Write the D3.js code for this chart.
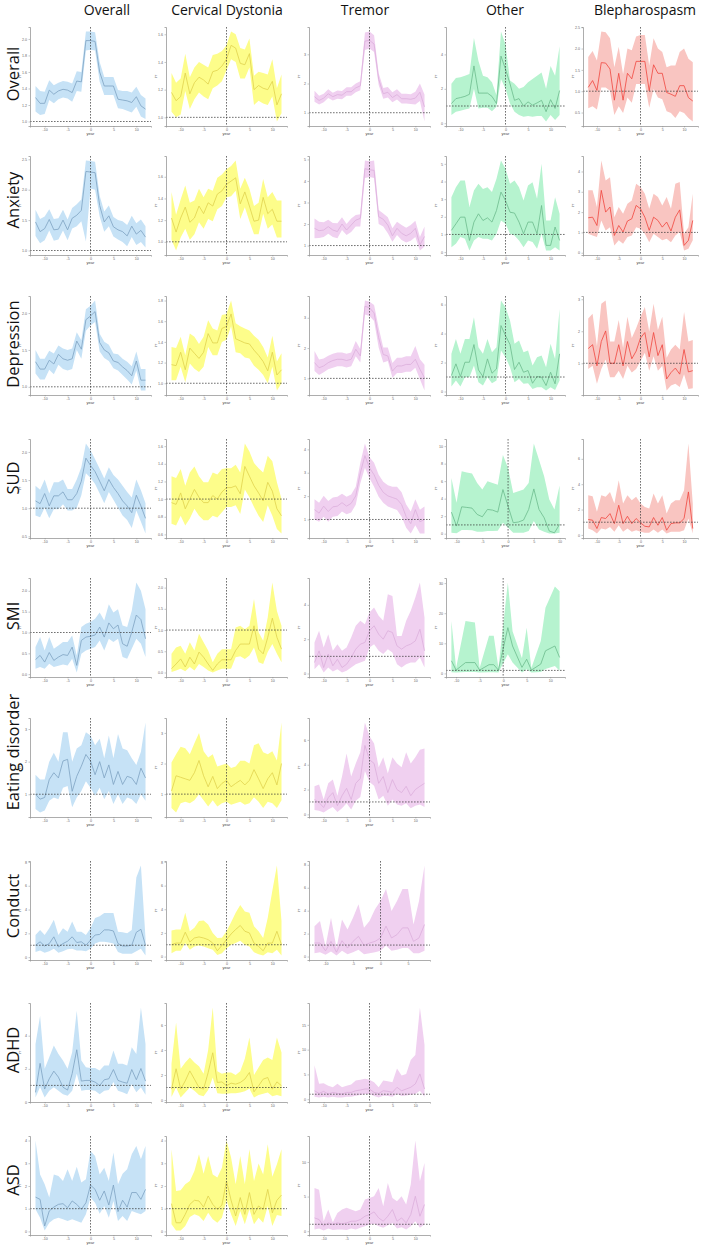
<!DOCTYPE html>
<html>
<head>
<meta charset="utf-8">
<script src="https://cdn.jsdelivr.net/npm/d3@7"></script>
<style>
  body { margin: 0; background: #fff; }
  .tick text { font-family: "Liberation Sans", Arial, sans-serif; }
</style>
</head>
<body>
<svg id="chart" width="709" height="1246"></svg>
<script>
// ---- categories ----
const groups = ["Overall", "Cervical Dystonia", "Tremor", "Other", "Blepharospasm"];
const outcomes = ["Overall", "Anxiety", "Depression", "SUD", "SMI", "Eating disorder", "Conduct", "ADHD", "ASD"];

const years = [-12,-11,-10,-9,-8,-7,-6,-5,-4,-3,-2,-1,0,1,2,3,4,5,6,7,8,9,10,11,12];
const yearsSudOther = [-11,-10,-9,-8,-7,-6,-5,-4,-3,-2,-1,0,1,2,3,4,5,6,7,8,9,10];
const yearsSmiOther = [-11,-10,-8,-6,-5,-3,-2,-1,1,2,4,5,6,8,9,11,12];
const yearsConTremor = [-12,-11,-10,-9,-8,-7,-6,-5,-4,-3,-2,-1,0,1,2,3,4,5,6,7,8];

// ---- Overall row ----
const ovr_all_est = [1.29,1.22,1.22,1.38,1.33,1.37,1.39,1.38,1.35,1.49,1.48,1.98,1.98,1.97,1.60,1.43,1.43,1.43,1.27,1.26,1.25,1.23,1.30,1.19,1.15];
const ovr_all_lo  = [1.12,1.08,1.09,1.26,1.22,1.27,1.29,1.28,1.24,1.37,1.36,1.86,1.87,1.86,1.48,1.32,1.32,1.32,1.16,1.15,1.13,1.11,1.18,1.06,1.03];
const ovr_all_hi  = [1.43,1.37,1.36,1.50,1.44,1.47,1.49,1.48,1.46,1.61,1.60,2.09,2.09,2.08,1.72,1.54,1.54,1.54,1.38,1.37,1.37,1.35,1.42,1.32,1.28];

const ovr_cd_est = [1.18,1.12,1.15,1.32,1.17,1.25,1.29,1.27,1.24,1.33,1.34,1.37,1.42,1.52,1.50,1.39,1.38,1.46,1.20,1.23,1.21,1.20,1.26,1.09,1.17];
const ovr_cd_lo  = [1.04,1.00,1.02,1.19,1.06,1.13,1.18,1.15,1.13,1.21,1.23,1.26,1.34,1.42,1.40,1.28,1.28,1.36,1.09,1.12,1.10,1.09,1.15,0.97,1.03];
const ovr_cd_hi  = [1.32,1.25,1.28,1.46,1.29,1.36,1.40,1.38,1.36,1.45,1.46,1.48,1.52,1.62,1.60,1.50,1.49,1.57,1.30,1.33,1.32,1.31,1.42,1.21,1.31];

const ovr_tre_est = [1.55,1.42,1.50,1.65,1.55,1.62,1.60,1.72,1.72,1.85,1.92,3.45,3.48,3.35,2.15,1.65,1.70,1.52,1.62,1.48,1.48,1.46,1.50,1.70,1.20];
const ovr_tre_lo  = [1.38,1.28,1.36,1.50,1.42,1.48,1.46,1.58,1.58,1.70,1.77,3.15,3.20,3.08,1.95,1.48,1.52,1.36,1.45,1.32,1.32,1.30,1.28,1.40,0.70];
const ovr_tre_hi  = [1.75,1.58,1.65,1.80,1.68,1.76,1.74,1.87,1.87,2.00,2.08,3.75,3.78,3.65,2.35,1.85,1.88,1.70,1.80,1.65,1.65,1.63,1.72,2.00,1.62];

const ovr_oth_est = [1.14,1.43,1.49,1.56,1.68,3.33,1.75,1.75,1.75,1.56,1.14,3.90,3.14,2.29,1.33,1.43,1.00,1.24,1.05,1.18,1.33,0.67,1.37,0.86,1.90];
const ovr_oth_lo  = [0.48,0.67,0.72,0.80,0.86,2.00,0.86,0.90,0.90,0.70,0.95,2.57,2.00,1.14,0.67,0.48,0.38,0.42,0.38,0.42,0.42,0.10,0.48,0.19,0.48];
const ovr_oth_hi  = [2.29,2.63,2.67,2.76,2.86,4.95,3.62,2.76,2.67,2.38,1.62,5.33,4.57,2.48,2.29,2.00,2.10,2.38,2.57,2.76,2.95,2.00,3.33,2.76,4.48];

const ovr_ble_est = [1.09,1.25,1.02,1.67,1.66,1.52,0.79,1.42,0.79,1.42,1.29,1.70,1.70,1.70,1.01,1.62,1.42,1.42,0.97,0.93,0.88,1.13,1.13,0.85,0.77];
const ovr_ble_lo  = [0.60,0.65,0.57,1.09,1.09,1.01,0.44,0.65,0.49,0.85,0.73,1.17,1.17,1.17,0.61,1.05,0.85,0.81,0.53,0.49,0.37,0.53,0.49,0.37,0.29];
const ovr_ble_hi  = [1.80,1.94,1.72,2.40,2.38,2.24,1.56,2.04,1.40,2.00,1.96,2.28,2.32,2.32,1.60,2.24,2.00,1.92,1.56,1.60,1.60,1.92,2.00,1.76,1.68];

// ---- Anxiety row ----
const anx_all_est = [1.47,1.31,1.36,1.51,1.34,1.35,1.50,1.34,1.53,1.58,1.66,2.30,2.29,2.28,1.74,1.47,1.57,1.39,1.34,1.31,1.24,1.40,1.27,1.33,1.22];
const anx_all_lo  = [1.24,1.12,1.17,1.33,1.16,1.18,1.33,1.17,1.36,1.40,1.48,1.15,2.02,2.00,1.56,1.31,1.40,1.23,1.18,1.14,1.07,1.22,1.09,1.14,1.05];
const anx_all_hi  = [1.67,1.52,1.56,1.68,1.52,1.53,1.67,1.51,1.70,1.76,1.84,2.48,2.47,2.46,1.90,1.64,1.74,1.55,1.50,1.48,1.42,1.57,1.45,1.51,1.40];

const anx_cd_est = [1.22,1.09,1.22,1.32,1.18,1.22,1.33,1.26,1.36,1.33,1.44,1.47,1.53,1.56,1.59,1.35,1.46,1.33,1.19,1.20,1.41,1.26,1.30,1.19,1.19];
const anx_cd_lo  = [1.02,0.92,1.04,1.12,1.02,1.07,1.18,1.12,1.21,1.19,1.30,1.33,1.41,1.42,1.47,1.21,1.32,1.19,1.07,1.07,1.26,1.12,1.16,1.04,1.04];
const anx_cd_hi  = [1.46,1.25,1.39,1.52,1.36,1.38,1.49,1.41,1.49,1.47,1.59,1.62,1.67,1.70,1.75,1.49,1.59,1.49,1.33,1.36,1.58,1.41,1.46,1.38,1.38];

const anx_tre_est = [1.80,1.69,1.72,1.88,1.72,1.65,2.00,1.72,1.95,2.18,2.26,4.57,4.52,4.49,2.34,2.22,1.95,1.45,1.80,1.57,1.45,1.57,1.80,1.03,1.42];
const anx_tre_lo  = [1.34,1.35,1.40,1.55,1.40,1.34,1.72,1.49,1.63,1.88,1.88,4.14,4.18,4.14,2.00,1.88,1.57,1.18,1.49,1.26,1.14,1.22,1.40,0.77,0.95];
const anx_tre_hi  = [2.26,2.11,2.08,2.20,2.05,2.03,2.31,2.00,2.26,2.42,2.45,4.95,4.92,4.95,2.65,2.49,2.31,1.80,2.11,1.95,1.83,1.95,2.15,1.40,1.88];

const anx_oth_est = [1.23,1.60,1.98,1.98,0.66,1.70,2.17,1.79,1.94,1.70,2.36,3.40,2.92,2.26,2.21,1.70,1.04,1.70,1.70,1.04,2.64,0.38,0.38,1.42,0.66];
const anx_oth_lo  = [0.28,0.47,0.85,0.75,0.09,0.66,0.85,0.75,0.75,0.66,1.04,1.79,1.60,1.04,0.94,0.66,0.28,0.66,0.57,0.19,1.04,0.09,0.09,0.28,0.09];
const anx_oth_hi  = [3.11,3.68,4.06,4.06,2.55,3.49,3.87,3.58,3.68,3.40,4.15,5.19,4.72,3.87,4.06,3.68,2.92,3.77,3.96,3.02,5.00,1.79,1.79,3.11,2.17];

const anx_ble_est = [1.72,1.75,1.34,3.07,2.00,2.25,0.85,1.34,1.02,1.56,1.67,2.33,2.16,1.75,1.10,1.75,1.59,1.26,1.51,1.07,1.75,2.11,0.36,0.61,1.59];
const anx_ble_lo  = [0.93,0.85,0.77,1.59,1.10,1.26,0.36,0.61,0.44,0.77,0.85,1.26,1.18,0.93,0.52,0.93,0.77,0.61,0.69,0.52,0.85,1.02,0.11,0.20,0.61];
const anx_ble_hi  = [3.07,3.07,2.25,4.54,3.56,3.72,1.75,2.25,1.92,2.41,2.57,3.39,3.23,2.90,2.16,2.90,2.74,2.33,2.74,2.16,3.39,3.48,0.93,1.26,2.90];

// ---- Depression row ----
const dep_all_est = [1.34,1.24,1.24,1.36,1.31,1.44,1.38,1.36,1.38,1.62,1.51,1.91,1.96,2.02,1.60,1.50,1.46,1.35,1.33,1.27,1.22,1.15,1.35,1.09,1.09];
const dep_all_lo  = [1.18,1.10,1.10,1.23,1.17,1.30,1.24,1.22,1.24,1.50,1.38,1.76,1.83,1.88,1.48,1.39,1.35,1.25,1.22,1.16,1.10,1.03,1.22,0.95,0.95];
const dep_all_hi  = [1.50,1.38,1.38,1.49,1.45,1.56,1.52,1.50,1.52,1.74,1.63,2.05,2.10,2.17,1.72,1.61,1.57,1.45,1.44,1.38,1.34,1.28,1.48,1.24,1.24];

const dep_cd_est = [1.18,1.17,1.30,1.13,1.34,1.29,1.24,1.30,1.48,1.39,1.39,1.53,1.55,1.67,1.43,1.41,1.39,1.38,1.32,1.27,1.21,1.12,1.30,1.08,1.13];
const dep_cd_lo  = [1.03,1.03,1.16,1.01,1.19,1.14,1.11,1.16,1.35,1.27,1.27,1.40,1.42,1.55,1.30,1.29,1.25,1.24,1.17,1.13,1.08,1.00,1.16,0.93,1.00];
const dep_cd_hi  = [1.35,1.34,1.45,1.27,1.48,1.45,1.38,1.45,1.61,1.53,1.51,1.66,1.67,1.80,1.58,1.55,1.53,1.51,1.46,1.42,1.35,1.25,1.46,1.21,1.29];

const dep_tre_est = [1.52,1.35,1.41,1.52,1.59,1.63,1.63,1.59,1.63,1.96,1.74,3.38,3.33,3.16,2.34,1.79,1.74,1.24,1.41,1.41,1.46,1.46,1.63,1.30,1.02];
const dep_tre_lo  = [1.24,1.11,1.20,1.30,1.35,1.40,1.40,1.36,1.40,1.73,1.52,3.11,3.06,2.89,2.02,1.52,1.57,1.02,1.18,1.18,1.22,1.22,1.35,0.97,0.60];
const dep_tre_hi  = [1.90,1.62,1.66,1.75,1.81,1.85,1.85,1.81,1.85,2.23,1.96,3.57,3.53,3.42,2.67,2.02,2.02,1.51,1.68,1.68,1.73,1.73,2.07,1.63,1.45];

const dep_oth_est = [1.10,1.91,1.03,2.02,2.02,3.24,1.49,1.03,2.25,1.26,1.56,4.55,3.86,3.24,1.52,2.02,1.33,1.45,0.57,1.03,0.99,0.41,1.33,0.53,2.60];
const dep_oth_lo  = [0.34,0.76,0.34,0.99,0.99,1.79,0.64,0.41,0.99,0.57,0.76,2.83,2.37,1.68,0.64,0.87,0.53,0.57,0.18,0.30,0.30,0.07,0.30,0.11,0.76];
const dep_oth_hi  = [2.60,3.63,2.60,3.63,3.63,5.13,3.06,2.60,3.63,2.71,3.06,6.28,5.82,4.90,3.29,3.52,2.71,2.83,1.79,2.37,2.48,1.68,3.29,2.25,5.70];

const dep_ble_est = [1.46,1.58,0.92,1.68,2.01,1.00,1.00,1.58,0.92,1.68,1.14,1.38,1.79,1.96,1.20,1.96,1.24,1.58,0.51,0.71,0.85,0.66,1.43,0.73,0.77];
const dep_ble_lo  = [0.82,0.92,0.36,0.82,1.12,0.56,0.56,0.77,0.51,0.92,0.71,0.82,1.07,1.33,0.77,1.22,0.77,0.92,0.15,0.31,0.36,0.26,0.66,0.20,0.22];
const dep_ble_hi  = [2.40,2.55,1.53,2.86,2.96,1.68,1.68,2.35,1.48,2.45,1.79,2.09,2.45,2.76,1.99,2.86,2.04,2.45,1.17,1.43,1.58,1.43,2.60,1.68,1.73];

// ---- SUD row ----
const sud_all_est = [1.13,1.08,1.26,1.04,1.22,1.22,1.29,1.15,1.15,1.26,1.48,1.89,1.76,1.65,1.48,1.31,1.51,1.37,1.26,1.13,1.04,0.92,1.23,1.04,0.82];
const sud_all_lo  = [0.87,0.84,1.01,0.82,0.98,0.98,1.07,0.96,0.96,1.01,1.23,1.62,1.54,1.43,1.26,1.09,1.29,1.15,1.01,0.87,0.79,0.65,0.96,0.76,0.55];
const sud_all_hi  = [1.40,1.33,1.51,1.26,1.46,1.46,1.51,1.34,1.34,1.51,1.73,2.15,2.03,1.87,1.70,1.53,1.73,1.59,1.51,1.40,1.29,1.19,1.51,1.32,1.09];

const sud_cd_est = [0.96,0.94,1.07,0.89,1.00,1.11,1.02,0.96,0.96,1.04,1.00,1.08,1.13,1.13,1.15,1.06,1.37,1.26,1.15,1.07,0.98,1.19,1.09,0.89,0.81];
const sud_cd_lo  = [0.72,0.70,0.81,0.70,0.78,0.89,0.81,0.76,0.76,0.81,0.79,0.85,0.91,0.91,0.93,0.83,1.11,1.02,0.91,0.81,0.74,0.93,0.81,0.66,0.61];
const sud_cd_hi  = [1.26,1.24,1.34,1.15,1.30,1.37,1.26,1.19,1.19,1.30,1.28,1.34,1.35,1.35,1.39,1.30,1.63,1.54,1.41,1.35,1.30,1.49,1.43,1.19,1.00];

const sud_tre_est = [1.42,1.27,1.57,1.34,1.54,1.57,1.72,1.57,1.69,2.01,2.99,3.73,3.21,2.91,2.46,2.16,2.01,1.94,1.87,1.64,1.12,0.82,1.42,0.90,1.00];
const sud_tre_lo  = [1.00,0.90,1.12,0.90,1.12,1.15,1.34,1.22,1.30,1.63,2.55,3.21,2.76,2.40,1.97,1.72,1.55,1.48,1.40,1.12,0.65,0.40,0.75,0.40,0.40];
const sud_tre_hi  = [1.87,1.72,2.01,1.79,1.94,1.97,2.10,1.97,2.07,2.40,3.43,4.25,3.66,3.43,2.91,2.61,2.46,2.40,2.40,2.16,1.64,1.34,1.87,1.42,1.55];

const sud_oth_est = [2.46,0.87,3.07,3.00,2.92,2.20,1.93,2.77,2.69,2.46,5.04,3.14,1.25,1.33,1.55,2.77,5.11,2.77,1.82,0.30,0.10,1.06];
const sud_oth_lo  = [0.11,0.04,0.42,0.42,0.40,0.23,0.23,0.30,0.30,0.34,1.25,0.68,0.11,0.11,0.11,0.30,1.44,0.49,0.23,0.02,0.02,0.11];
const sud_oth_hi  = [6.36,3.52,7.12,7.00,6.86,5.80,5.04,5.98,5.80,5.60,9.00,7.50,4.66,4.85,5.04,5.80,10.30,8.45,6.55,3.90,2.77,5.50];

const sud_ble_est = [1.21,1.16,0.50,1.37,1.29,1.68,0.89,2.34,0.89,1.47,0.89,1.29,0.95,0.68,0.63,1.37,0.76,1.37,0.37,0.89,0.95,0.95,1.29,3.39,0.50];
const sud_ble_lo  = [0.50,0.37,0.11,0.50,0.42,0.63,0.24,0.76,0.24,0.50,0.24,0.37,0.24,0.16,0.16,0.42,0.16,0.42,0.11,0.24,0.24,0.24,0.37,1.29,0.11];
const sud_ble_hi  = [3.13,3.05,1.82,3.13,3.00,3.39,2.47,4.32,2.47,3.13,2.74,3.00,2.47,2.21,2.08,3.26,2.47,3.13,1.68,2.47,2.74,2.74,3.53,7.21,2.47];

// ---- SMI row ----
const smi_all_est = [0.35,0.45,0.29,0.52,0.33,0.41,0.47,0.45,0.65,0.21,0.81,0.89,0.91,0.94,1.13,0.89,1.23,1.09,1.18,0.73,0.67,1.01,1.42,1.31,0.85];
const smi_all_lo  = [0.13,0.17,0.13,0.25,0.17,0.20,0.23,0.21,0.37,0.04,0.49,0.57,0.61,0.65,0.81,0.57,0.85,0.77,0.85,0.41,0.37,0.61,0.85,0.73,0.41];
const smi_all_hi  = [0.65,0.89,0.57,0.89,0.61,0.69,0.77,0.77,0.93,0.45,1.13,1.21,1.25,1.33,1.48,1.29,1.68,1.48,1.56,1.17,1.13,1.52,2.20,2.00,1.56];

const smi_cd_est = [0.09,0.20,0.32,0.13,0.36,0.20,0.48,0.36,0.20,0.05,0.20,0.30,0.30,0.30,0.52,0.67,0.67,0.67,1.10,0.55,0.44,0.83,1.28,0.83,0.55];
const smi_cd_lo  = [0.01,0.05,0.09,0.03,0.13,0.05,0.20,0.13,0.05,0.00,0.05,0.09,0.09,0.09,0.36,0.38,0.32,0.40,0.59,0.24,0.20,0.48,0.67,0.44,0.24];
const smi_cd_hi  = [0.44,0.59,0.63,0.44,0.71,0.52,0.91,0.71,0.52,0.24,0.44,0.55,0.55,0.55,1.06,1.10,1.02,1.10,1.73,0.95,0.75,1.30,2.12,1.45,1.10];

const smi_tre_est = [0.64,1.32,0.35,1.13,0.45,0.83,0.35,0.54,0.93,1.42,1.71,1.81,2.49,2.78,2.29,2.00,2.49,2.39,1.61,1.42,1.61,1.71,1.90,2.58,1.32];
const smi_tre_lo  = [0.25,0.54,0.06,0.35,0.12,0.25,0.06,0.16,0.35,0.54,0.64,0.74,1.51,1.71,1.32,1.13,1.42,1.22,0.54,0.35,0.54,0.64,0.64,0.93,0.35];
const smi_tre_hi  = [1.81,2.49,1.51,2.29,1.32,1.71,1.32,1.51,2.10,2.78,3.07,2.87,3.55,3.84,3.36,3.07,4.62,4.52,2.19,2.19,3.07,3.65,4.43,5.30,3.26];

const smi_oth_est = [4.2,1.1,3.6,3.6,1.1,2.9,2.9,1.1,15.2,9.1,2.0,4.7,1.1,3.1,7.5,9.1,5.3];
const smi_oth_lo  = [0.4,0.3,0.5,0.5,0.3,0.4,0.4,0.3,6.4,3.6,0.3,1.4,0.3,0.5,1.5,2.5,0.9];
const smi_oth_hi  = [17.4,1.8,17.4,16.9,1.8,12.5,12.5,1.8,30.2,14.0,5.0,15.2,1.8,10.8,21.8,28.9,27.3];

// ---- Eating disorder row ----
const eat_all_est = [1.00,0.85,0.90,1.45,1.66,1.50,2.02,2.07,1.09,1.55,1.86,2.22,2.02,1.60,2.00,1.50,1.90,1.30,1.70,1.30,1.55,1.50,1.30,1.80,1.50];
const eat_all_lo  = [0.55,0.44,0.50,0.80,0.90,0.85,1.20,1.25,0.60,0.90,1.10,1.40,1.20,0.95,1.20,0.85,1.10,0.70,1.00,0.70,0.90,0.85,0.70,1.00,0.80];
const eat_all_hi  = [1.60,1.45,1.45,2.00,2.27,2.00,2.90,2.90,2.00,2.40,2.50,2.90,2.80,2.50,2.70,2.10,2.80,2.10,2.85,2.40,2.35,2.10,1.90,2.30,3.20];

const eat_cd_est = [1.10,1.60,1.55,1.50,1.45,1.70,2.10,1.60,1.24,1.58,1.18,1.35,1.45,1.24,1.35,1.45,1.30,1.45,1.80,1.50,1.18,1.50,1.70,1.30,2.00];
const eat_cd_lo  = [0.55,0.40,0.70,0.75,0.70,0.80,1.00,0.80,0.60,0.80,0.60,0.70,0.75,0.65,0.70,0.75,0.65,0.70,0.90,0.75,0.55,0.75,0.70,0.55,0.80];
const eat_cd_hi  = [2.03,2.30,2.55,2.50,2.30,2.66,3.00,2.40,2.20,2.30,1.90,1.95,2.00,1.85,1.90,2.09,2.09,2.00,2.60,2.66,2.37,2.30,2.40,2.10,3.34];

const eat_tre_est = [1.20,0.95,0.55,1.35,1.75,0.70,1.50,2.10,1.20,2.50,2.90,5.55,4.40,4.10,2.50,3.05,1.75,2.80,2.00,1.75,2.26,1.50,2.00,2.26,2.50];
const eat_tre_lo  = [0.35,0.30,0.15,0.40,0.60,0.20,0.50,0.90,0.40,1.10,1.40,3.50,2.60,2.30,1.20,1.50,0.70,1.20,0.80,0.70,0.90,0.50,0.70,0.80,0.60];
const eat_tre_hi  = [2.26,2.40,1.20,2.50,2.80,1.50,3.05,4.90,3.05,4.10,5.00,7.40,6.30,5.70,3.80,4.60,3.30,4.60,4.10,3.80,5.00,4.10,4.60,5.20,5.30];

// ---- Conduct row ----
const con_all_est = [1.00,1.29,0.94,1.14,1.71,0.86,1.14,1.34,1.71,1.23,1.29,1.00,1.43,1.86,1.91,2.29,2.29,2.20,1.14,0.94,0.94,1.00,2.09,2.34,1.00];
const con_all_lo  = [0.43,0.57,0.37,0.49,0.71,0.37,0.49,0.66,0.71,0.57,0.57,0.49,0.71,1.14,1.29,1.29,1.23,1.14,0.43,0.29,0.29,0.29,0.49,0.71,0.14];
const con_all_hi  = [1.86,2.29,1.86,2.43,3.14,1.86,2.43,2.14,2.99,2.14,2.14,1.86,2.43,3.29,3.43,3.71,3.71,3.71,2.14,2.09,2.00,2.29,6.70,7.70,1.60];

const con_cd_est = [1.00,1.14,1.14,2.06,1.23,1.57,1.66,1.57,1.43,1.14,0.49,0.94,1.43,1.91,2.29,2.63,2.14,2.00,1.14,0.86,0.49,1.14,1.14,2.14,1.00];
const con_cd_lo  = [0.29,0.49,0.49,1.14,0.57,0.86,0.94,0.86,0.71,0.57,0.14,0.29,0.71,1.00,1.14,1.34,1.00,0.86,0.37,0.20,0.09,0.37,0.29,0.57,0.09];
const con_cd_hi  = [2.20,2.29,2.29,3.71,2.14,2.43,3.00,3.06,2.71,2.00,1.57,1.60,2.14,2.90,3.71,4.37,3.80,3.71,2.57,2.14,1.57,3.29,5.57,7.70,3.00];

const con_tre_est = [1.18,1.18,0.50,1.32,0.38,1.38,0.74,1.32,1.76,0.97,1.18,1.32,1.62,2.65,1.62,1.91,2.50,2.50,1.32,1.62,2.79];
const con_tre_lo  = [0.29,0.38,0.15,0.44,0.09,0.50,0.20,0.38,0.59,0.20,0.29,0.38,0.50,0.97,0.50,0.59,0.74,0.74,0.29,0.29,0.50];
const con_tre_hi  = [2.65,3.09,0.88,3.38,0.74,3.24,2.35,3.38,4.56,2.50,3.09,4.12,4.85,5.88,3.97,4.85,5.88,5.88,2.79,4.85,7.94];

// ---- ADHD row ----
const adhd_all_est = [0.58,2.33,0.78,1.40,1.86,1.50,0.89,0.72,1.71,3.15,1.26,1.30,1.30,1.20,0.99,1.34,1.40,1.96,1.30,1.20,1.13,1.96,1.34,2.02,1.26];
const adhd_all_lo  = [0.27,0.90,0.27,0.68,0.89,0.68,0.47,0.37,0.68,1.71,0.68,0.72,0.72,0.68,0.47,0.68,0.72,1.20,0.68,0.58,0.47,1.09,0.58,0.89,0.43];
const adhd_all_hi  = [3.50,5.20,2.00,2.70,3.40,2.90,2.50,2.00,3.00,5.50,2.50,2.10,2.05,2.05,1.90,2.20,2.20,3.10,2.30,2.30,2.20,3.30,2.90,5.70,3.50];

const adhd_cd_est = [0.87,2.50,0.87,1.53,2.33,1.67,1.00,0.87,2.20,3.78,1.40,1.45,1.14,1.35,1.27,1.40,1.67,2.20,0.66,1.14,1.67,1.80,0.87,1.45,1.14];
const adhd_cd_lo  = [0.25,1.00,0.20,0.60,1.00,0.75,0.40,0.30,0.80,1.80,0.55,0.50,0.50,0.55,0.55,0.60,0.70,0.90,0.20,0.40,0.50,0.60,0.30,0.40,0.30];
const adhd_cd_hi  = [2.90,6.20,2.50,3.00,3.40,3.00,2.70,2.10,4.00,7.40,2.30,2.10,2.20,2.20,2.00,2.30,3.30,5.00,2.00,2.60,3.20,3.40,3.20,5.00,3.80];

const adhd_tre_est = [1.70,1.16,1.58,1.03,1.37,1.16,1.03,1.37,1.37,1.70,1.85,2.05,2.05,1.37,1.16,1.70,1.58,1.37,2.40,1.70,2.05,2.40,3.08,5.10,2.05];
const adhd_tre_lo  = [0.48,0.34,0.48,0.34,0.48,0.34,0.34,0.48,0.48,0.68,0.82,1.03,1.03,0.62,0.34,0.68,0.62,0.48,1.03,0.62,0.75,0.89,1.03,1.71,0.48];
const adhd_tre_hi  = [6.85,3.10,3.20,2.70,2.40,3.10,2.40,2.70,2.95,3.77,3.90,4.10,3.90,3.40,2.40,3.77,3.60,3.40,6.20,4.80,5.10,7.90,8.90,18.50,11.00];

// ---- ASD row ----
const asd_all_est = [1.51,1.41,0.24,0.90,1.07,1.19,1.22,1.04,1.34,1.19,0.97,1.26,2.04,1.85,1.37,1.78,1.16,2.04,0.87,1.37,1.07,1.71,1.71,1.41,1.85];
const asd_all_lo  = [0.97,0.60,0.04,0.38,0.53,0.60,0.53,0.46,0.53,0.46,0.38,0.75,1.49,1.26,0.78,1.12,0.60,1.34,0.46,0.68,0.46,0.90,0.82,0.75,0.90];
const asd_all_hi  = [4.00,2.50,2.07,1.49,2.50,2.44,2.22,2.74,2.22,2.84,2.15,2.29,3.54,3.32,2.50,2.80,2.22,3.47,2.07,2.54,2.74,3.40,3.76,3.18,3.76];

const asd_cd_est = [1.22,0.38,0.38,0.75,1.19,1.37,1.34,1.07,1.56,1.19,0.97,1.16,2.22,1.37,0.68,1.49,0.75,1.71,0.75,1.12,0.97,1.85,0.82,1.37,1.60];
const asd_cd_lo  = [0.31,0.04,0.04,0.24,0.63,0.75,0.68,0.46,0.82,0.53,0.38,0.60,1.37,0.75,0.24,0.90,0.31,0.97,0.31,0.60,0.38,1.12,0.24,0.72,0.68];
const asd_cd_hi  = [3.62,1.78,1.81,2.07,2.22,2.66,3.40,2.54,3.32,2.50,2.37,2.80,4.00,3.25,2.07,3.32,2.07,3.62,2.22,2.99,2.50,3.84,2.40,2.96,3.62];

const asd_tre_est = [1.92,1.68,0.72,1.20,0.96,1.20,1.06,1.20,1.44,1.44,1.68,2.16,2.40,2.79,1.92,1.44,2.16,3.13,1.44,1.92,1.20,2.40,5.05,2.16,3.85];
const asd_tre_lo  = [0.24,0.38,0.10,0.38,0.19,0.24,0.24,0.19,0.38,0.24,0.48,0.72,0.96,1.06,0.72,0.48,0.86,1.20,0.38,0.58,0.24,0.72,1.44,0.48,0.96];
const asd_tre_hi  = [6.25,6.00,1.44,3.13,1.30,2.64,3.13,3.37,3.13,2.88,3.13,4.57,4.81,5.05,6.25,3.60,6.97,4.81,4.33,5.05,3.85,6.73,13.10,7.20,9.86];

// ---- panel table (row = outcome, col = group) ----
const panels = [
  [0,0,years,ovr_all_est,ovr_all_lo,ovr_all_hi],
  [0,1,years,ovr_cd_est,ovr_cd_lo,ovr_cd_hi],
  [0,2,years,ovr_tre_est,ovr_tre_lo,ovr_tre_hi],
  [0,3,years,ovr_oth_est,ovr_oth_lo,ovr_oth_hi],
  [0,4,years,ovr_ble_est,ovr_ble_lo,ovr_ble_hi],
  [1,0,years,anx_all_est,anx_all_lo,anx_all_hi],
  [1,1,years,anx_cd_est,anx_cd_lo,anx_cd_hi],
  [1,2,years,anx_tre_est,anx_tre_lo,anx_tre_hi],
  [1,3,years,anx_oth_est,anx_oth_lo,anx_oth_hi],
  [1,4,years,anx_ble_est,anx_ble_lo,anx_ble_hi],
  [2,0,years,dep_all_est,dep_all_lo,dep_all_hi],
  [2,1,years,dep_cd_est,dep_cd_lo,dep_cd_hi],
  [2,2,years,dep_tre_est,dep_tre_lo,dep_tre_hi],
  [2,3,years,dep_oth_est,dep_oth_lo,dep_oth_hi],
  [2,4,years,dep_ble_est,dep_ble_lo,dep_ble_hi],
  [3,0,years,sud_all_est,sud_all_lo,sud_all_hi],
  [3,1,years,sud_cd_est,sud_cd_lo,sud_cd_hi],
  [3,2,years,sud_tre_est,sud_tre_lo,sud_tre_hi],
  [3,3,yearsSudOther,sud_oth_est,sud_oth_lo,sud_oth_hi],
  [3,4,years,sud_ble_est,sud_ble_lo,sud_ble_hi],
  [4,0,years,smi_all_est,smi_all_lo,smi_all_hi],
  [4,1,years,smi_cd_est,smi_cd_lo,smi_cd_hi],
  [4,2,years,smi_tre_est,smi_tre_lo,smi_tre_hi],
  [4,3,yearsSmiOther,smi_oth_est,smi_oth_lo,smi_oth_hi],
  [5,0,years,eat_all_est,eat_all_lo,eat_all_hi],
  [5,1,years,eat_cd_est,eat_cd_lo,eat_cd_hi],
  [5,2,years,eat_tre_est,eat_tre_lo,eat_tre_hi],
  [6,0,years,con_all_est,con_all_lo,con_all_hi],
  [6,1,years,con_cd_est,con_cd_lo,con_cd_hi],
  [6,2,yearsConTremor,con_tre_est,con_tre_lo,con_tre_hi],
  [7,0,years,adhd_all_est,adhd_all_lo,adhd_all_hi],
  [7,1,years,adhd_cd_est,adhd_cd_lo,adhd_cd_hi],
  [7,2,years,adhd_tre_est,adhd_tre_lo,adhd_tre_hi],
  [8,0,years,asd_all_est,asd_all_lo,asd_all_hi],
  [8,1,years,asd_cd_est,asd_cd_lo,asd_cd_hi],
  [8,2,years,asd_tre_est,asd_tre_lo,asd_tre_hi],
];

// ---- layout & style ----
const colLeft = [30, 166, 309, 446, 583];
const colWidth = [121, 121, 121, 119, 115];
const rowTop = [27, 156, 296, 439, 578, 718, 861, 1003, 1136];
const plotH = 99;
const headerX = [107, 227, 365, 505, 645];
const rowLabelY = [74, 200, 344, 478, 616, 752, 906, 1050, 1180];
const bandColor = ["#c6e2f6", "#fdfd8a", "#f0d0f0", "#b6f3cf", "#f9c5c1"];
const lineColor = ["#7da2c2", "#e0d24e", "#dcafdc", "#6cbb8d", "#f0453e"];
const axisGrey = "#8a8a8a";

const svg = d3.select("#chart");

svg.selectAll("text.header")
  .data(groups)
  .join("text")
  .attr("class", "header")
  .attr("x", (d, i) => headerX[i])
  .attr("y", 15)
  .attr("text-anchor", "middle")
  .style("font-family", "'Open Sans', sans-serif")
  .style("font-size", "14px")
  .attr("fill", "#111")
  .text(d => d);

// rotated row labels; baseline kept far enough right so the glyph box stays inside
svg.selectAll("text.rowlab")
  .data(outcomes)
  .join("text")
  .attr("class", "rowlab")
  .attr("transform", (d, i) => `translate(19,${rowLabelY[i]}) rotate(-90)`)
  .attr("text-anchor", "middle")
  .style("font-family", "'Open Sans', sans-serif")
  .style("font-size", "16.5px")
  .attr("fill", "#111")
  .text(d => d);

panels.forEach(([row, col, xs, est, lo, hi]) => {
  const w = colWidth[col], h = plotH;
  const g = svg.append("g").attr("transform", `translate(${colLeft[col]},${rowTop[row]})`);

  // ggplot-like 5% expansion, ref lines train the scales
  const xMin = Math.min(0, d3.min(xs)), xMax = Math.max(0, d3.max(xs));
  const xPad = (xMax - xMin) * 0.05;
  const x = d3.scaleLinear().domain([xMin - xPad, xMax + xPad]).range([0, w]);
  const yMin = Math.min(1, d3.min(lo)), yMax = Math.max(1, d3.max(hi));
  const yPad = (yMax - yMin) * 0.05;
  const y = d3.scaleLinear().domain([yMin - yPad, yMax + yPad]).range([h, 0]);

  const pts = xs.map((yr, i) => ({ yr, est: est[i], lo: lo[i], hi: hi[i] }));

  g.append("path")
    .datum(pts)
    .attr("fill", bandColor[col])
    .attr("d", d3.area().x(d => x(d.yr)).y0(d => y(d.lo)).y1(d => y(d.hi)));

  g.append("path")
    .datum(pts)
    .attr("fill", "none")
    .attr("stroke", lineColor[col])
    .attr("stroke-width", 0.8)
    .attr("d", d3.line().x(d => x(d.yr)).y(d => y(d.est)));

  // dashed reference lines at IRR = 1 and year 0
  g.append("line")
    .attr("x1", 0).attr("x2", w)
    .attr("y1", y(1)).attr("y2", y(1))
    .attr("stroke", "#333").attr("stroke-width", 0.7)
    .attr("stroke-dasharray", "1.6,1.4");
  g.append("line")
    .attr("x1", x(0)).attr("x2", x(0))
    .attr("y1", 0).attr("y2", h)
    .attr("stroke", "#333").attr("stroke-width", 0.7)
    .attr("stroke-dasharray", "1.6,1.4");

  const xTicks = [-10, -5, 0, 5, 10].filter(v => v >= x.domain()[0] && v <= x.domain()[1]);
  const xa = g.append("g")
    .attr("transform", `translate(0,${h})`)
    .call(d3.axisBottom(x).tickValues(xTicks).tickFormat(d => String(d)).tickSize(1.5).tickPadding(1));
  const ya = g.append("g")
    .call(d3.axisLeft(y).ticks(4).tickSize(1.5).tickPadding(1.5));

  [xa, ya].forEach(a => {
    a.select(".domain").attr("stroke", axisGrey).attr("stroke-width", 0.7);
    a.selectAll(".tick line").attr("stroke", axisGrey).attr("stroke-width", 0.5);
    a.selectAll(".tick text").attr("fill", "#666").style("font-size", "3.6px");
  });

  g.append("text")
    .attr("x", w / 2).attr("y", h + 8.5)
    .attr("text-anchor", "middle")
    .style("font-family", "'Liberation Sans', Arial, sans-serif")
    .style("font-size", "4px")
    .attr("fill", "#444")
    .text("year");

  g.append("text")
    .attr("transform", `translate(-9,${h / 2}) rotate(-90)`)
    .attr("text-anchor", "middle")
    .style("font-family", "'Liberation Sans', Arial, sans-serif")
    .style("font-size", "4px")
    .attr("fill", "#444")
    .text("irr");
});
</script>
</body>
</html>
